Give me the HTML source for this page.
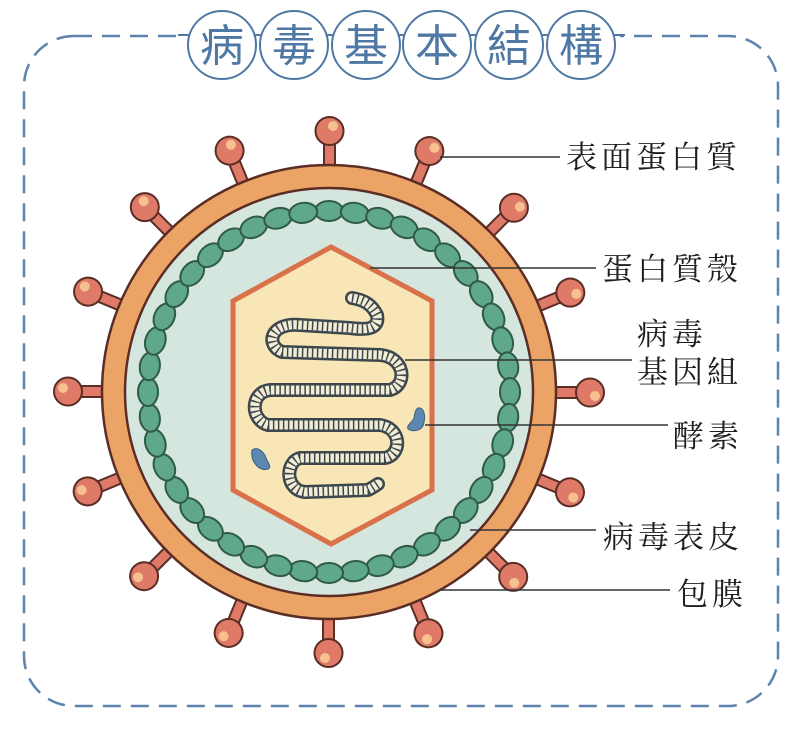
<!DOCTYPE html>
<html><head><meta charset="utf-8"><style>
html,body{margin:0;padding:0;background:#fff;width:800px;height:730px;overflow:hidden}
svg{display:block}
.t{font-family:"Liberation Serif","Noto Serif CJK SC","Noto Serif CJK TC",serif;font-size:31px;fill:#1e1e1e;letter-spacing:4px}
.h{font-family:"Liberation Sans","Noto Sans CJK TC",sans-serif;font-size:44px;fill:#4f78a4;text-anchor:middle}
</style></head><body>
<svg width="800" height="730" viewBox="0 0 800 730">
<defs>
<g id="bead"><ellipse cx="329" cy="211" rx="14" ry="10" fill="#5fa88a" stroke="#2f5a4a" stroke-width="2"/></g>
<g id="spike">
<rect x="324" y="142" width="11" height="30" fill="#e07a68" stroke="#5a2e25" stroke-width="2"/>
<circle cx="329.5" cy="131" r="14" fill="#e07a68" stroke="#5a2e25" stroke-width="2"/>
<circle cx="333" cy="126" r="5" fill="#f6c08f"/>
</g>
<path id="dna" d="M352,298 C365,300 372,305 377,315 C380,330 365,330 350,328 L300,325 C270,322 265,345 282,352 L380,355 C405,357 408,385 390,390 L270,390 C250,392 250,420 268,425 L380,425 C402,428 402,455 385,458 L300,458 C285,462 285,490 305,492 L368,490 C372,488 375,486 378,484"/>
</defs>
<rect x="24" y="36" width="754" height="670" rx="50" fill="none" stroke="#5c84ad" stroke-width="2.5" stroke-dasharray="18 10"/>
<rect x="180" y="30" width="440" height="12" fill="#fff"/>
<line x1="178" y1="35" x2="625" y2="35" stroke="#4f78a4" stroke-width="2"/>
<g fill="#fff" stroke="#4f78a4" stroke-width="2">
<circle cx="222" cy="45" r="34"/><circle cx="294" cy="45" r="34"/><circle cx="366" cy="45" r="34"/><circle cx="437" cy="45" r="34"/><circle cx="509" cy="45" r="34"/><circle cx="581" cy="45" r="34"/>
</g>
<text class="h" x="222" y="61">病</text><text class="h" x="294" y="61">毒</text><text class="h" x="366" y="61">基</text><text class="h" x="437" y="61">本</text><text class="h" x="509" y="61">結</text><text class="h" x="581" y="61">構</text>
<g>
<use href="#spike" transform="rotate(0 329 392)"/><use href="#spike" transform="rotate(22.5 329 392)"/><use href="#spike" transform="rotate(45 329 392)"/><use href="#spike" transform="rotate(67.5 329 392)"/><use href="#spike" transform="rotate(90 329 392)"/><use href="#spike" transform="rotate(112.5 329 392)"/><use href="#spike" transform="rotate(135 329 392)"/><use href="#spike" transform="rotate(157.5 329 392)"/><use href="#spike" transform="rotate(180 329 392)"/><use href="#spike" transform="rotate(202.5 329 392)"/><use href="#spike" transform="rotate(225 329 392)"/><use href="#spike" transform="rotate(247.5 329 392)"/><use href="#spike" transform="rotate(270 329 392)"/><use href="#spike" transform="rotate(292.5 329 392)"/><use href="#spike" transform="rotate(315 329 392)"/><use href="#spike" transform="rotate(337.5 329 392)"/>
</g>
<circle cx="329" cy="392" r="227" fill="#eca466" stroke="#5a2e25" stroke-width="2.5"/>
<circle cx="329" cy="392" r="204" fill="#d5e6de" stroke="#5a2e25" stroke-width="2.5"/>
<g>
<use href="#bead" transform="rotate(0 329 392)"/><use href="#bead" transform="rotate(8.18 329 392)"/><use href="#bead" transform="rotate(16.36 329 392)"/><use href="#bead" transform="rotate(24.55 329 392)"/><use href="#bead" transform="rotate(32.73 329 392)"/><use href="#bead" transform="rotate(40.91 329 392)"/><use href="#bead" transform="rotate(49.09 329 392)"/><use href="#bead" transform="rotate(57.27 329 392)"/><use href="#bead" transform="rotate(65.45 329 392)"/><use href="#bead" transform="rotate(73.64 329 392)"/><use href="#bead" transform="rotate(81.82 329 392)"/><use href="#bead" transform="rotate(90 329 392)"/><use href="#bead" transform="rotate(98.18 329 392)"/><use href="#bead" transform="rotate(106.36 329 392)"/><use href="#bead" transform="rotate(114.55 329 392)"/><use href="#bead" transform="rotate(122.73 329 392)"/><use href="#bead" transform="rotate(130.91 329 392)"/><use href="#bead" transform="rotate(139.09 329 392)"/><use href="#bead" transform="rotate(147.27 329 392)"/><use href="#bead" transform="rotate(155.45 329 392)"/><use href="#bead" transform="rotate(163.64 329 392)"/><use href="#bead" transform="rotate(171.82 329 392)"/><use href="#bead" transform="rotate(180 329 392)"/><use href="#bead" transform="rotate(188.18 329 392)"/><use href="#bead" transform="rotate(196.36 329 392)"/><use href="#bead" transform="rotate(204.55 329 392)"/><use href="#bead" transform="rotate(212.73 329 392)"/><use href="#bead" transform="rotate(220.91 329 392)"/><use href="#bead" transform="rotate(229.09 329 392)"/><use href="#bead" transform="rotate(237.27 329 392)"/><use href="#bead" transform="rotate(245.45 329 392)"/><use href="#bead" transform="rotate(253.64 329 392)"/><use href="#bead" transform="rotate(261.82 329 392)"/><use href="#bead" transform="rotate(270 329 392)"/><use href="#bead" transform="rotate(278.18 329 392)"/><use href="#bead" transform="rotate(286.36 329 392)"/><use href="#bead" transform="rotate(294.55 329 392)"/><use href="#bead" transform="rotate(302.73 329 392)"/><use href="#bead" transform="rotate(310.91 329 392)"/><use href="#bead" transform="rotate(319.09 329 392)"/><use href="#bead" transform="rotate(327.27 329 392)"/><use href="#bead" transform="rotate(335.45 329 392)"/><use href="#bead" transform="rotate(343.64 329 392)"/><use href="#bead" transform="rotate(351.82 329 392)"/>
</g>
<polygon points="331,247 432,301 432,490 331,544 233,490 233,301" fill="#f8e6b6" stroke="#d9724a" stroke-width="5"/>
<g fill="none" stroke-linecap="round" stroke-linejoin="round">
<use href="#dna" stroke="#3c474d" stroke-width="14"/>
<use href="#dna" stroke="#f3edd6" stroke-width="9"/>
<use href="#dna" stroke="#3c474d" stroke-width="9" stroke-dasharray="1.5 3.5" stroke-linecap="butt"/>
</g>
<path d="M252,450 C258,446 264,452 266,458 C268,463 272,467 268,469 C260,472 250,462 252,450 Z" fill="#5b87b0" stroke="#3c5f80" stroke-width="1"/>
<path d="M420,408 C426,410 425,420 423,426 C420,431 412,432 408,429 C406,425 412,423 414,418 C415,412 416,407 420,408 Z" fill="#5b87b0" stroke="#3c5f80" stroke-width="1"/>
<g stroke="#333" stroke-width="1.5">
<line x1="440" y1="157" x2="560" y2="157"/>
<line x1="370" y1="268" x2="596" y2="268"/>
<line x1="405" y1="360" x2="632" y2="360"/>
<line x1="425" y1="425" x2="668" y2="425"/>
<line x1="470" y1="530" x2="596" y2="530"/>
<line x1="440" y1="590" x2="670" y2="590"/>
</g>
<text class="t" x="566" y="168">表面蛋白質</text>
<text class="t" x="602" y="280">蛋白質殼</text>
<text class="t" x="637" y="345">病毒</text>
<text class="t" x="637" y="383">基因組</text>
<text class="t" x="673" y="447">酵素</text>
<text class="t" x="603" y="548">病毒表皮</text>
<text class="t" x="677" y="605">包膜</text>
</svg>
</body></html>
